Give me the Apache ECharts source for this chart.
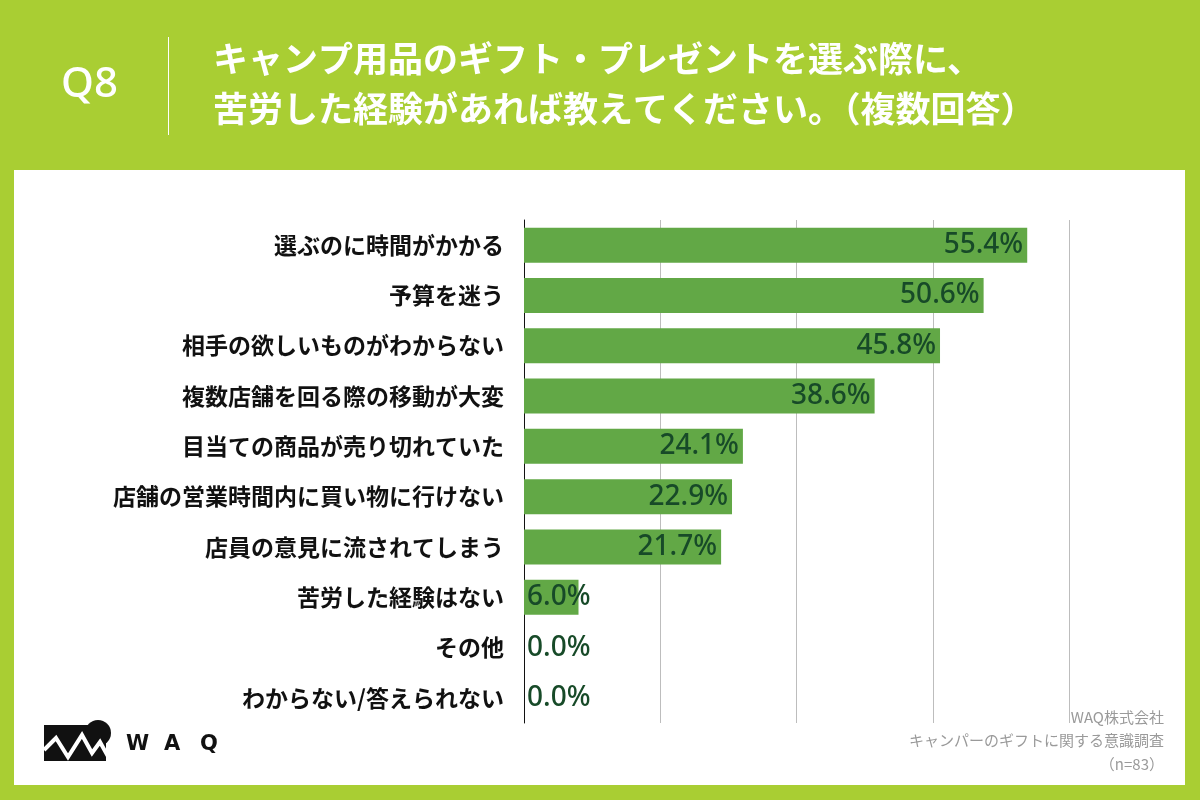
<!DOCTYPE html>
<html>
<head>
<meta charset="utf-8">
<title>Q8</title>
<script src="https://cdn.jsdelivr.net/npm/echarts@6/dist/echarts.min.js"></script>
<style>
  html,body{margin:0;padding:0;background:#a9ce33;}
  #main{width:1200px;height:800px;}
</style>
</head>
<body>
<div id="main"></div>
<script>
var categories = [
  '選ぶのに時間がかかる',
  '予算を迷う',
  '相手の欲しいものがわからない',
  '複数店舗を回る際の移動が大変',
  '目当ての商品が売り切れていた',
  '店舗の営業時間内に買い物に行けない',
  '店員の意見に流されてしまう',
  '苦労した経験はない',
  'その他',
  'わからない/答えられない'
];
var values = [55.4, 50.6, 45.8, 38.6, 24.1, 22.9, 21.7, 6.0, 0.0, 0.0];
var axisMax = 60;
var axisStep = 15;
var titleLines = ['キャンプ用品のギフト・プレゼントを選ぶ際に、', '苦労した経験があれば教えてください。（複数回答）'];
var sourceLines = ['WAQ株式会社', 'キャンパーのギフトに関する意識調査', '（n=83）'];

var jp = '"Noto Sans CJK JP", "Noto Sans", sans-serif';

var chart = echarts.init(document.getElementById('main'));

// 小さい値はバーの左端から表示
var barData = values.map(function (v) {
  return {
    value: v,
    label: { position: v >= 15 ? 'insideRight' : 'insideLeft', distance: v >= 15 ? 4 : 3 }
  };
});

var option = {
  backgroundColor: '#a9ce33',
  animation: false,
  grid: { left: 524, right: 131, top: 220, bottom: 77 },
  xAxis: {
    type: 'value',
    min: 0,
    max: axisMax,
    interval: axisStep,
    axisLine: { show: false },
    axisTick: { show: false },
    axisLabel: { show: false },
    splitLine: { lineStyle: { color: '#bdbdbd', width: 1 } }
  },
  yAxis: {
    type: 'category',
    inverse: true,
    data: categories,
    axisLine: { show: true, lineStyle: { color: '#111', width: 1 } },
    axisTick: { show: false },
    axisLabel: {
      color: '#111',
      fontFamily: jp,
      fontWeight: 'bold',
      fontSize: 23,
      margin: 20
    }
  },
  series: [{
    type: 'bar',
    data: barData,
    barWidth: 35,
    itemStyle: { color: '#62a846' },
    label: {
      show: true,
      color: '#174a28',
      fontFamily: '"Noto Sans", sans-serif',
      fontWeight: 500,
      fontSize: 28,
      formatter: function (p) { return p.value.toFixed(1) + '%'; }
    }
  }],
  graphic: [
    { type: 'rect', z: -10, shape: { x: 14, y: 170, width: 1171, height: 615 }, style: { fill: '#ffffff' } },
    { type: 'text', left: 61, top: 64, style: { text: 'Q8', fill: '#fff', font: '500 42px "Noto Sans", sans-serif' } },
    { type: 'line', shape: { x1: 168.5, y1: 37, x2: 168.5, y2: 135 }, style: { stroke: '#fff', lineWidth: 1 } },
    { type: 'text', left: 213, top: 41, style: { text: titleLines[0], fill: '#fff', font: 'bold 35px ' + jp } },
    { type: 'text', left: 213, top: 91, style: { text: titleLines[1], fill: '#fff', font: 'bold 35px ' + jp } },
    { type: 'text', right: 36, top: 710, style: { text: sourceLines[0], fill: '#9a9a9a', font: '15px ' + jp, align: 'right' } },
    { type: 'text', right: 36, top: 733, style: { text: sourceLines[1], fill: '#9a9a9a', font: '15px ' + jp, align: 'right' } },
    { type: 'text', right: 36, top: 757, style: { text: sourceLines[2], fill: '#9a9a9a', font: '15px ' + jp, align: 'right' } },
    // WAQ ロゴ
    { type: 'rect', shape: { x: 44, y: 725, width: 62, height: 36 }, style: { fill: '#111' } },
    { type: 'circle', shape: { cx: 98, cy: 733, r: 13 }, style: { fill: '#111' } },
    { type: 'polyline', shape: { points: [[44, 750], [56, 738], [68, 757], [82, 735], [92, 753], [100, 742], [110, 760]] },
      style: { stroke: '#fff', lineWidth: 4, fill: null } },
    { type: 'text', left: 126, top: 734, style: { text: 'W', fill: '#111', font: 'bold 21px "DejaVu Sans", sans-serif' } },
    { type: 'text', left: 164, top: 734, style: { text: 'A', fill: '#111', font: 'bold 21px "DejaVu Sans", sans-serif' } },
    { type: 'text', left: 200, top: 734, style: { text: 'Q', fill: '#111', font: 'bold 21px "DejaVu Sans", sans-serif' } }
  ]
};

chart.setOption(option);
</script>
</body>
</html>
